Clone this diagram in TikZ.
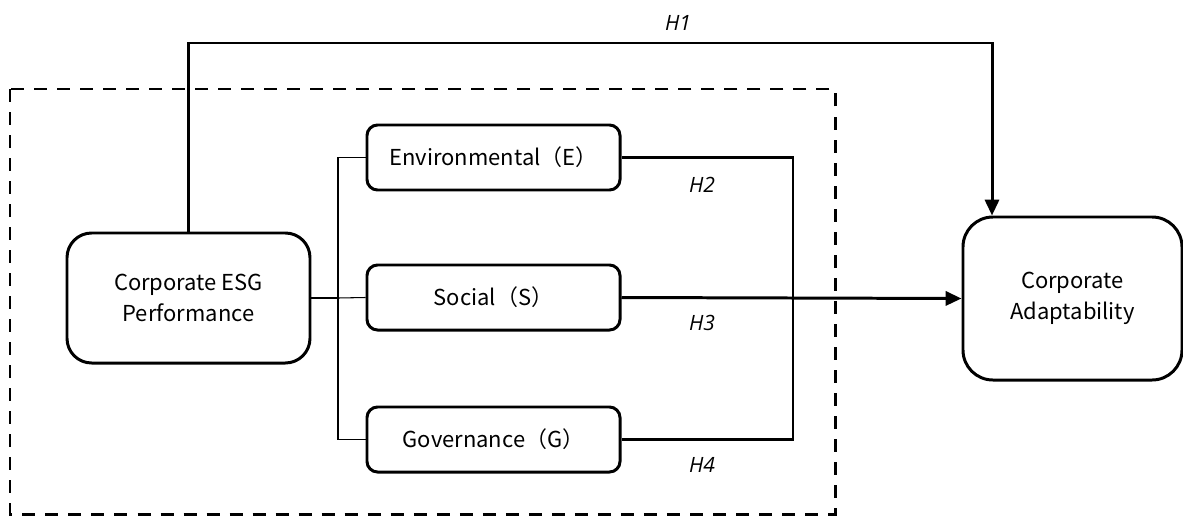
\documentclass[tikz,border=0pt]{standalone}
\usepackage{fontspec}
\setmainfont{Noto Sans CJK SC}
\newfontfamily\hfont{Open Sans}
\usetikzlibrary{arrows.meta}

\begin{document}
\begin{tikzpicture}[x=0.2mm, y=0.2mm]
        \tikzstyle{every node}+=[inner sep=0pt, font=\fontsize{12.5}{18}\selectfont]
        \tikzstyle{bigbox}=[draw, line width=1.7pt, rounded corners=14pt, align=center]
        \tikzstyle{dimbox}=[draw, line width=1.7pt, rounded corners=6pt, minimum width=5.06cm, minimum height=1.3cm]
        \tikzstyle{hlabel}=[font=\hfont\itshape\fontsize{12}{14}\selectfont]
        \tikzstyle{thickline}=[line width=1.7pt]
        \tikzstyle{arr}=[line width=1.7pt, -{Triangle[length=9pt,width=8pt]}]
        \useasboundingbox (0,0) rectangle (1183,-517);
        \draw [line width=1.7pt, dash pattern=on 7.4pt off 5.7pt] (10,-89) rectangle (835,-514);
        \node [bigbox, minimum width=4.86cm, minimum height=2.6cm] (esg) at (188.5,-298) {Corporate ESG\\Performance};
        \node [dimbox] (env) at (493.5,-157.5) {Environmental（E）};
        \node [dimbox] (soc) at (493.5,-297.5) {Social（S）};
        \node [dimbox] (gov) at (493.5,-439.5) {Governance（G）};
        \node [bigbox, rounded corners=17pt, minimum width=4.38cm, minimum height=3.26cm] (adapt) at (1072.5,-298.5) {Corporate\\Adaptability};
        \coordinate (bus) at (338,-298);
        \coordinate (join) at (793,-298);
        \coordinate (top) at (992,-43);
        \draw [line width=0.6pt] (env.west) -- (bus |- env.west) -- (bus |- gov.west) -- (gov.west);
        \draw [line width=1.2pt] (esg.east) -- (bus);
        \draw [line width=0.6pt] (bus) -- (soc.west);
        \draw [thickline] (env.east) -| (join) |- (gov.east);
        \draw [arr] (soc.east) -- (adapt.west);
        \draw [arr] (esg.north) |- (top) -- (top |- adapt.north);
        \node [hlabel] (h1) at (678,-23) {H1};
        \node [hlabel] (h2) at (702,-185) {H2};
        \node [hlabel] (h3) at (702,-323) {H3};
        \node [hlabel] (h4) at (702,-465) {H4};
\end{tikzpicture}
\end{document}
